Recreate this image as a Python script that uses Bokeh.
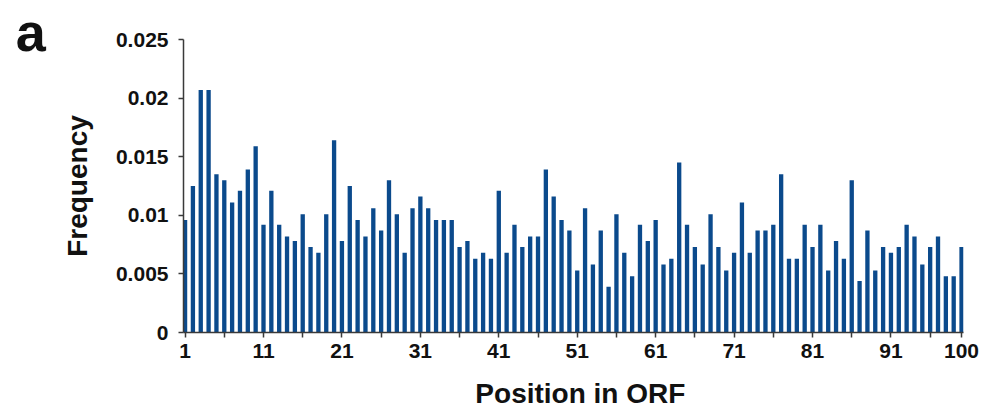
from bokeh.plotting import figure
from bokeh.models import FixedTicker, Label, ColumnDataSource
from bokeh.embed import file_html
from bokeh.resources import INLINE

# Position along the ORF and the observed frequency at each position
positions = list(range(1, 101))
frequency = [
    0.0096, 0.0125, 0.0207, 0.0207, 0.0135, 0.0130, 0.0111, 0.0121, 0.0139, 0.0159,
    0.0092, 0.0121, 0.0092, 0.0082, 0.0078, 0.0101, 0.0073, 0.0068, 0.0101, 0.0164,
    0.0078, 0.0125, 0.0096, 0.0082, 0.0106, 0.0087, 0.0130, 0.0101, 0.0068, 0.0106,
    0.0116, 0.0106, 0.0096, 0.0096, 0.0096, 0.0073, 0.0078, 0.0063, 0.0068, 0.0063,
    0.0121, 0.0068, 0.0092, 0.0073, 0.0082, 0.0082, 0.0139, 0.0116, 0.0096, 0.0087,
    0.0053, 0.0106, 0.0058, 0.0087, 0.0039, 0.0101, 0.0068, 0.0048, 0.0092, 0.0078,
    0.0096, 0.0058, 0.0063, 0.0145, 0.0092, 0.0073, 0.0058, 0.0101, 0.0073, 0.0053,
    0.0068, 0.0111, 0.0068, 0.0087, 0.0087, 0.0092, 0.0135, 0.0063, 0.0063, 0.0092,
    0.0073, 0.0092, 0.0053, 0.0078, 0.0063, 0.0130, 0.0044, 0.0087, 0.0053, 0.0073,
    0.0068, 0.0073, 0.0092, 0.0082, 0.0058, 0.0073, 0.0082, 0.0048, 0.0048, 0.0073,
]

x_tick_positions = [1, 6, 11, 16, 21, 26, 31, 36, 41, 46, 51, 56, 61, 66, 71, 76, 81, 86, 91, 96, 100]
x_tick_labels = ["1", "", "11", "", "21", "", "31", "", "41", "", "51", "", "61", "", "71", "", "81", "", "91", "", "100"]
y_tick_positions = [0, 0.005, 0.01, 0.015, 0.02, 0.025]
y_tick_labels = ["0", "0.005", "0.01", "0.015", "0.02", "0.025"]

FONT = "Liberation Sans"
BAR_COLOR = "#0b4a8c"
AXIS_COLOR = "#3a3a3a"
TEXT_COLOR = "#111111"

source = ColumnDataSource(data=dict(pos=positions, freq=frequency))

p = figure(
    width=982, height=408,
    x_range=(0.8, 100.25), y_range=(0, 0.025),
    output_backend="svg", toolbar_location=None,
    min_border_left=183, min_border_right=19,
    min_border_top=39, min_border_bottom=76,
)
p.outline_line_color = None
p.grid.visible = False
p.background_fill_color = "white"
p.border_fill_color = "white"

p.vbar(x="pos", top="freq", width=0.55, source=source,
       fill_color=BAR_COLOR, line_color=None)

# x axis (its title is drawn as a separate label below)
xa = p.xaxis[0]
xa.ticker = FixedTicker(ticks=x_tick_positions)
xa.major_label_overrides = {t: s for t, s in zip(x_tick_positions, x_tick_labels)}
xa.major_label_text_font = FONT
xa.major_label_text_font_style = "bold"
xa.major_label_text_font_size = "21px"
xa.major_label_text_color = TEXT_COLOR
xa.major_label_standoff = 6

# y axis
ya = p.yaxis[0]
ya.ticker = FixedTicker(ticks=y_tick_positions)
ya.major_label_overrides = {t: s for t, s in zip(y_tick_positions, y_tick_labels)}
ya.axis_label = "Frequency"
ya.axis_label_text_font = FONT
ya.axis_label_text_font_style = "bold"
ya.axis_label_text_font_size = "28px"
ya.axis_label_text_color = TEXT_COLOR
ya.axis_label_standoff = 20
ya.major_label_text_font = FONT
ya.major_label_text_font_style = "bold"
ya.major_label_text_font_size = "21px"
ya.major_label_text_color = TEXT_COLOR
ya.major_label_standoff = 10

for ax in (xa, ya):
    ax.axis_line_color = AXIS_COLOR
    ax.axis_line_width = 1.5
    ax.major_tick_line_color = AXIS_COLOR
    ax.major_tick_line_width = 1.5
    ax.major_tick_in = 0
    ax.major_tick_out = 5
    ax.minor_tick_line_color = None

# x axis title, kept in the bottom panel so it is not clipped to the frame
p.add_layout(Label(
    x=51.4, y=-0.0052,
    text="Position in ORF", text_font=FONT, text_font_style="bold",
    text_font_size="28px", text_color=TEXT_COLOR,
    text_baseline="middle", text_align="center",
), "below")

# panel letter, kept in the left panel so it is not clipped to the frame
p.add_layout(Label(
    x=-20.6, y=0.02564,
    text="a", text_font=FONT, text_font_style="bold",
    text_font_size="54px", text_color=TEXT_COLOR,
    text_baseline="middle", text_align="left",
), "left")

open("out.html", "w").write(file_html(p, INLINE))
